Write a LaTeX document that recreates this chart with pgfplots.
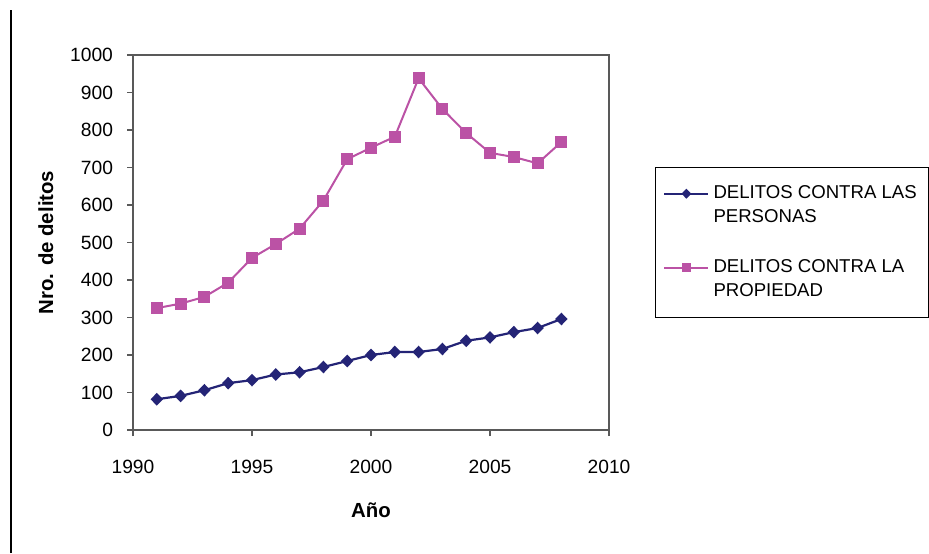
\documentclass[border=0pt]{standalone}
\usepackage{fontspec}
\setmainfont{Liberation Sans}
\usepackage{pgfplots}
\pgfplotsset{compat=1.18}
\definecolor{navy}{RGB}{36,36,118}
\definecolor{pinkp}{RGB}{187,82,165}
\begin{document}
\begin{tikzpicture}
\path[use as bounding box] (-66.5pt,-61.5pt) rectangle (398pt,215pt);
\draw[black, line width=0.8pt] (-61pt,-61.5pt) -- (-61pt,210pt);
\begin{axis}[
  scale only axis,
  width=238pt, height=187.5pt,
  xmin=1990, xmax=2010, ymin=0, ymax=1000,
  xtick={1990,1995,2000,2005,2010},
  ytick={0,100,...,1000},
  /pgf/number format/assume math mode=true,
  /pgf/number format/1000 sep={},
  tick align=outside,
  major tick length=3pt,
  xtick pos=bottom, ytick pos=left,
  axis line style={black!65, line width=0.8pt},
  tick style={black!65, line width=0.8pt},
  ticklabel style={font=\fontsize{9.6}{11.4}\selectfont},
  xticklabel style={yshift=-8.5pt},
  yticklabel style={xshift=-3.5pt},
  xlabel={\textbf{Año}},
  ylabel={\textbf{Nro. de delitos}},
  xlabel style={font=\fontsize{10.2}{12}\selectfont, at={(axis description cs:0.5,-0.213)}, anchor=center},
  ylabel style={font=\fontsize{10.2}{12}\selectfont, at={(axis description cs:-0.183,0.5)}, anchor=center},
  legend style={at={(rel axis cs:1.096,0.701)}, anchor=north west,
    draw=black, line width=0.6pt,
    font=\fontsize{9.3}{12}\selectfont,
    cells={align=left, anchor=west},
    inner xsep=4pt, inner ysep=7pt, row sep=13pt},
  legend image code/.code={
    \draw[#1, mark=none, yshift=6pt] (0pt,0pt) -- (22pt,0pt);
    \draw[#1, only marks, mark size=1.7pt, yshift=6pt] plot coordinates {(11pt,0pt)};},
  legend cell align=left,
]
\addplot[navy, line width=1.1pt, mark=diamond*, mark size=2.4pt, mark options={xscale=1.3}] coordinates {
(1991,82) (1992,91) (1993,106) (1994,125) (1995,133) (1996,148) (1997,154) (1998,168) (1999,184) (2000,200) (2001,208) (2002,208) (2003,216) (2004,238) (2005,247) (2006,261) (2007,272) (2008,296)
};
\addlegendentry{DELITOS CONTRA LAS\\PERSONAS}
\addplot[pinkp, line width=1pt, mark=square*, mark size=2.5pt] coordinates {
(1991,325) (1992,337) (1993,355) (1994,393) (1995,459) (1996,496) (1997,537) (1998,612) (1999,722) (2000,753) (2001,782) (2002,938) (2003,856) (2004,792) (2005,739) (2006,728) (2007,711) (2008,768)
};
\addlegendentry{DELITOS CONTRA LA\\PROPIEDAD}
\end{axis}
\end{tikzpicture}
\end{document}
